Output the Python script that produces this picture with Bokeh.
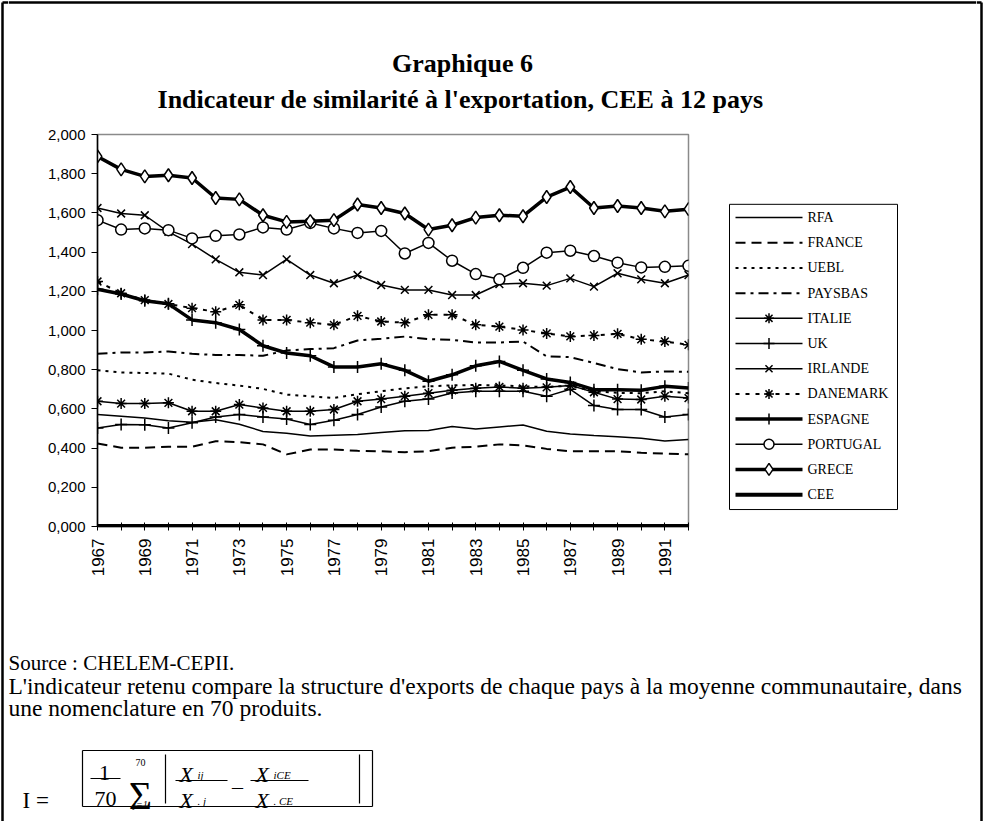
import math
from bokeh.plotting import figure
from bokeh.layouts import column, row
from bokeh.models import Range1d, FixedTicker, CustomJSTickFormatter
from bokeh.core.properties import value
from bokeh.embed import file_html
from bokeh.resources import INLINE

years = [1967, 1968, 1969, 1970, 1971, 1972, 1973, 1974, 1975, 1976, 1977, 1978, 1979,
         1980, 1981, 1982, 1983, 1984, 1985, 1986, 1987, 1988, 1989, 1990, 1991, 1992]

rfa = [0.571, 0.562, 0.553, 0.540, 0.532, 0.545, 0.522, 0.485, 0.476, 0.462, 0.466, 0.470, 0.480,
       0.488, 0.490, 0.510, 0.498, 0.508, 0.518, 0.486, 0.472, 0.464, 0.458, 0.450, 0.436, 0.444]
france = [0.424, 0.402, 0.402, 0.407, 0.407, 0.435, 0.430, 0.419, 0.368, 0.393, 0.393, 0.386, 0.384,
          0.379, 0.384, 0.402, 0.407, 0.419, 0.414, 0.396, 0.384, 0.384, 0.384, 0.376, 0.372, 0.368]
uebl = [0.797, 0.786, 0.783, 0.780, 0.749, 0.732, 0.719, 0.702, 0.673, 0.664, 0.656, 0.675, 0.690,
        0.705, 0.715, 0.720, 0.722, 0.720, 0.715, 0.712, 0.718, 0.690, 0.682, 0.680, 0.690, 0.680]
paysbas = [0.881, 0.888, 0.888, 0.893, 0.881, 0.875, 0.875, 0.871, 0.898, 0.905, 0.910, 0.949, 0.958,
           0.969, 0.956, 0.952, 0.939, 0.939, 0.944, 0.868, 0.864, 0.834, 0.803, 0.786, 0.791, 0.789]
italie = [0.639, 0.627, 0.627, 0.631, 0.588, 0.588, 0.622, 0.605, 0.588, 0.588, 0.597, 0.639, 0.650,
          0.665, 0.680, 0.695, 0.705, 0.712, 0.705, 0.710, 0.720, 0.685, 0.650, 0.648, 0.665, 0.655]
uk = [0.503, 0.520, 0.519, 0.503, 0.529, 0.559, 0.571, 0.559, 0.549, 0.520, 0.542, 0.571, 0.610,
      0.639, 0.651, 0.681, 0.690, 0.690, 0.690, 0.664, 0.700, 0.617, 0.597, 0.597, 0.559, 0.571]
irlande = [1.625, 1.597, 1.588, 1.503, 1.441, 1.363, 1.297, 1.283, 1.363, 1.283, 1.241, 1.283, 1.232,
           1.207, 1.207, 1.181, 1.181, 1.237, 1.241, 1.229, 1.266, 1.224, 1.292, 1.261, 1.241, 1.283]
danemark = [1.250, 1.190, 1.155, 1.135, 1.114, 1.096, 1.131, 1.054, 1.054, 1.040, 1.029, 1.075, 1.046,
            1.040, 1.080, 1.080, 1.029, 1.020, 1.003, 0.985, 0.970, 0.975, 0.983, 0.955, 0.944, 0.927]
espagne = [1.210, 1.186, 1.152, 1.136, 1.054, 1.040, 1.005, 0.922, 0.885, 0.871, 0.814, 0.814, 0.830,
           0.797, 0.741, 0.774, 0.820, 0.842, 0.797, 0.753, 0.735, 0.698, 0.698, 0.695, 0.715, 0.707]
portugal = [1.563, 1.515, 1.521, 1.512, 1.470, 1.483, 1.490, 1.526, 1.515, 1.549, 1.521, 1.498, 1.508,
            1.393, 1.447, 1.356, 1.288, 1.261, 1.320, 1.397, 1.407, 1.380, 1.346, 1.322, 1.325, 1.330]
grece = [1.888, 1.822, 1.786, 1.792, 1.778, 1.676, 1.669, 1.588, 1.554, 1.558, 1.563, 1.643, 1.625,
         1.597, 1.515, 1.537, 1.576, 1.588, 1.583, 1.681, 1.732, 1.625, 1.635, 1.625, 1.608, 1.619]
cee = [0.0] * 26

y_ticks = [0.0, 0.2, 0.4, 0.6, 0.8, 1.0, 1.2, 1.4, 1.6, 1.8, 2.0]

names = ["RFA", "FRANCE", "UEBL", "PAYSBAS", "ITALIE", "UK", "IRLANDE", "DANEMARK",
         "ESPAGNE", "PORTUGAL", "GRECE", "CEE"]
values = [rfa, france, uebl, paysbas, italie, uk, irlande, danemark, espagne, portugal, grece, cee]
widths = [1.5, 2.0, 2.0, 2.0, 1.5, 1.5, 1.5, 2.0, 3.5, 1.5, 3.5, 5.0]
dashes = ["solid", "10 6", "3 5", "10 5 3 5", "solid", "solid", "solid", "4 6",
          "solid", "solid", "solid", "solid"]
markers = [None, None, None, None, "asterisk", "cross", "x", "asterisk",
           "cross", "circle", "diamond", None]
msizes = {"asterisk": 11, "cross": 12, "x": 11, "circle": 11, "diamond": 13}

SERIF = value("Liberation Serif")
BL, BT, BR = 2, 2, 981          # page border positions
FT, FB = 134, 527               # plot frame top / bottom (page px)


def sheet(x0, y0, w, h, ytop=None, ybot=None, **kw):
    yt = y0 if ytop is None else ytop
    yb = y0 + h if ybot is None else ybot
    f = figure(width=w, height=h, x_range=Range1d(x0, x0 + w), y_range=Range1d(yb, yt),
               output_backend="svg", toolbar_location=None, min_border=0,
               x_axis_type=None, y_axis_type=None, **kw)
    f.outline_line_color = None
    f.grid.visible = False
    f.background_fill_color = "white"
    f.border_fill_color = "white"
    return f


def txt(f, s, x, y, size, style="normal", align="left", baseline="alphabetic", font=SERIF):
    f.text(x=[x], y=[y], text=[s], text_font=font, text_font_size=value(f"{size}px"),
           text_font_style=style, text_align=align, text_baseline=baseline,
           text_color="black")


def seg(f, x0, y0, x1, y1, w=1.2):
    f.segment(x0=[x0], y0=[y0], x1=[x1], y1=[y1], line_color="black", line_width=w)


# ---------------- side strips (page border) ----------------
SL = sheet(0, 0, 8, 821)
seg(SL, BL, BT, BL, 821, 2.5)
seg(SL, BL, BT, 8, BT, 2.5)
SR = sheet(976, 0, 8, 821)
seg(SR, BR, BT, BR, 821, 2.5)
seg(SR, 976, BT, BR, BT, 2.5)

# ---------------- title strip ----------------
T = sheet(8, 0, 968, 116)
seg(T, 8, BT, 976, BT, 2.5)
txt(T, "Graphique 6", 462, 63, 26, style="bold", align="center")
txt(T, "Indicateur de similarité à l'exportation, CEE à 12 pays", 460, 99, 26,
    style="bold", align="center")

# ---------------- main chart ----------------
M = figure(width=682, height=463, output_backend="svg", toolbar_location=None,
           x_range=Range1d(1967, 1992), y_range=Range1d(0, 2),
           min_border_left=89, min_border_right=2, min_border_top=18, min_border_bottom=52)
M.background_fill_color = "white"
M.border_fill_color = "white"
M.outline_line_color = "#8a8a8a"
M.outline_line_width = 1.5
M.xgrid.visible = False
M.ygrid.visible = False

for name, vals, lw, dash, mk in zip(names, values, widths, dashes, markers):
    M.line(years, vals, line_color="black", line_width=lw, line_dash=dash)
    if mk is not None:
        M.scatter(years, vals, marker=mk, size=msizes[mk], line_color="black",
                  fill_color="white", line_width=1.5)

M.yaxis.ticker = FixedTicker(ticks=y_ticks)
M.yaxis.formatter = CustomJSTickFormatter(code="return tick.toFixed(3).replace('.', ',');")
M.xaxis.ticker = FixedTicker(ticks=years)
M.xaxis.formatter = CustomJSTickFormatter(
    code="var t = Math.round(tick); return (t % 2 == 1) ? String(t) : '';")
M.xaxis.major_label_orientation = math.pi / 2
for ax in (M.xaxis[0], M.yaxis[0]):
    ax.axis_line_color = "black"
    ax.axis_line_width = 1.5
    ax.major_tick_line_color = "black"
    ax.major_tick_line_width = 1
    ax.minor_tick_line_color = None
    ax.major_label_text_font = "Liberation Sans"
    ax.major_label_text_color = "black"
M.yaxis.major_label_text_font_size = "15px"
M.xaxis.major_label_text_font_size = "17px"
M.yaxis.major_tick_out = 6
M.yaxis.major_tick_in = 0
M.yaxis.major_label_standoff = 6
M.xaxis.major_tick_out = 4
M.xaxis.major_tick_in = 4
M.xaxis.major_label_standoff = 8

# ---------------- legend strip (frame aligned with the chart frame) ----------------
L = sheet(690, 116, 286, 463, ytop=FT, ybot=FB)
L.min_border_top = 18
L.min_border_bottom = 52
L.quad(left=[729], right=[897], top=[204], bottom=[510], fill_color="white",
       line_color="black", line_width=1)
for i, (name, lw, dash, mk) in enumerate(zip(names, widths, dashes, markers)):
    yy = 217.3 + i * 25.25
    L.segment(x0=[735], y0=[yy], x1=[802], y1=[yy], line_color="black",
              line_width=min(lw, 4.0), line_dash=dash)
    if mk is not None:
        L.scatter(x=[768.5], y=[yy], marker=mk, size=msizes[mk] - 1, line_color="black",
                  fill_color="white", line_width=1.5)
    txt(L, name, 807, yy, 14, baseline="middle")

# ---------------- notes / formula ----------------
B = sheet(8, 579, 968, 242)
txt(B, "Source : CHELEM-CEPII.", 8, 662, 21)
txt(B, "L'indicateur retenu compare la structure d'exports de chaque pays à la moyenne "
       "communautaire, dans", 8, 685, 23.5)
txt(B, "une nomenclature en 70 produits.", 8, 707, 23.5)

txt(B, "I =", 22, 800, 23)
seg(B, 82, 750, 372, 750)
seg(B, 82, 750, 82, 806)
seg(B, 372, 750, 372, 806)
seg(B, 82, 806, 372, 806)
txt(B, "1", 104, 772, 22, align="center")
seg(B, 90, 778, 120, 778)
txt(B, "70", 105, 798, 22, align="center")
txt(B, "Σ", 140, 795, 40, align="center")
txt(B, "70", 140, 762, 10, align="center")
txt(B, "j=1", 140, 804, 10, style="italic", align="center")
seg(B, 165, 754, 165, 803)
txt(B, "X", 179, 774, 22, style="italic")
txt(B, "ij", 197, 774, 11, style="italic")
seg(B, 175, 780, 227, 780)
txt(B, "X", 179, 800, 22, style="italic")
txt(B, ". j", 197, 800, 11, style="italic")
txt(B, "–", 237, 786, 22, align="center")
txt(B, "X", 255, 774, 22, style="italic")
txt(B, "iCE", 273, 774, 11, style="italic")
seg(B, 250, 780, 308, 780)
txt(B, "X", 255, 800, 22, style="italic")
txt(B, ". CE", 273, 800, 11, style="italic")
seg(B, 359, 754, 359, 803)

center = column(T, row(M, L, spacing=0), B, spacing=0)
layout = row(SL, center, SR, spacing=0)
open("out.html", "w").write(file_html(layout, INLINE))
